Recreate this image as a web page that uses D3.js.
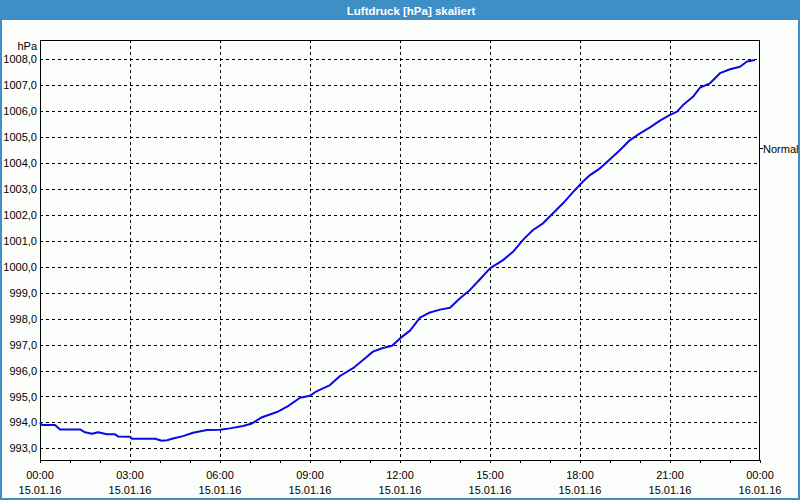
<!DOCTYPE html>
<html><head><meta charset="utf-8">
<script src="https://cdn.jsdelivr.net/npm/d3@7"></script>
<style>
html,body{margin:0;padding:0;background:#fff;}
svg{display:block;}
text{font-family:"Liberation Sans",Arial,sans-serif;}
</style></head>
<body><svg id="c" width="800" height="500"></svg>
<script>
const title = "Luftdruck [hPa] skaliert";
const yUnit = "hPa";
const rightLabel = "Normal";
const times = ["00:00","00:04","00:20","00:30","00:40","01:00","01:20","01:30","01:44","01:56","02:14","02:30","02:36","03:00","03:04","03:50","04:04","04:14","04:26","04:46","05:06","05:34","06:00","06:20","06:46","07:04","07:24","07:54","08:16","08:40","09:00","09:14","09:40","10:00","10:26","10:46","11:06","11:24","11:44","12:00","12:20","12:40","13:00","13:20","13:40","14:00","14:20","14:40","15:00","15:26","15:46","16:06","16:26","16:46","17:06","17:26","17:46","18:06","18:20","18:40","19:00","19:20","19:40","20:00","20:20","20:40","21:00","21:14","21:26","21:46","22:00","22:20","22:40","23:00","23:20","23:34","23:50"];
const values = [994.0,993.9,993.9,993.9,993.73,993.73,993.73,993.62,993.56,993.62,993.54,993.54,993.46,993.45,993.37,993.37,993.29,993.31,993.38,993.47,993.6,993.71,993.72,993.77,993.86,993.96,994.2,994.4,994.63,994.95,995.03,995.21,995.44,995.79,996.09,996.41,996.73,996.86,996.96,997.24,997.54,998.04,998.24,998.35,998.42,998.79,999.11,999.52,999.94,1000.26,1000.58,1001.04,1001.42,1001.68,1002.07,1002.45,1002.88,1003.29,1003.54,1003.8,1004.15,1004.51,1004.89,1005.15,1005.38,1005.64,1005.86,1005.99,1006.24,1006.56,1006.91,1007.08,1007.47,1007.62,1007.72,1007.92,1007.98];
const yTicks = [993,994,995,996,997,998,999,1000,1001,1002,1003,1004,1005,1006,1007,1008];
const xStart = "2016-01-15 00:00", xEnd = "2016-01-16 00:00";

const parse = d3.timeParse("%Y-%m-%d %H:%M");
const data = times.map((t,i)=>({t:parse("2016-01-15 "+t), v:values[i]}));

const svg = d3.select("#c");
const W=800,H=500;
const L=40,R=760,T=40,B=460;
const blue="#3d8fc6";

svg.append("rect").attr("width",W).attr("height",H).attr("fill",blue);
svg.append("rect").attr("x",2).attr("y",20).attr("width",W-4).attr("height",H-22).attr("fill","#fcfefc");
svg.append("text").attr("x",411).attr("y",14.5).attr("text-anchor","middle")
  .attr("fill","#fff").attr("font-weight","bold").attr("font-size","11.5px").text(title);

const x = d3.scaleTime().domain([parse(xStart),parse(xEnd)]).range([L,R]);
const y = d3.scaleLinear().domain([992.55,1008.75]).range([B,T]);

const g = svg.append("g").attr("shape-rendering","crispEdges");
// horizontal grid
g.selectAll(".hg").data(yTicks).join("line")
  .attr("x1",L).attr("x2",R).attr("y1",d=>Math.round(y(d))+0.5).attr("y2",d=>Math.round(y(d))+0.5)
  .attr("stroke","#000").attr("stroke-dasharray","3,3");
// vertical grid
const majors = d3.timeHour.every(3).range(parse(xStart), d3.timeMinute.offset(parse(xEnd),1));
g.selectAll(".vg").data(majors.filter((d,i)=>i>0 && i<majors.length-1)).join("line")
  .attr("y1",T).attr("y2",B).attr("x1",d=>Math.round(x(d))+0.5).attr("x2",d=>Math.round(x(d))+0.5)
  .attr("stroke","#000").attr("stroke-dasharray","3,3");

// line
const line = d3.line().x(d=>x(d.t)).y(d=>y(d.v));
svg.append("path").datum(data).attr("d",line).attr("fill","none")
  .attr("stroke","#0a0ae6").attr("stroke-width",2).attr("stroke-linejoin","round");

// frame
g.append("rect").attr("x",L+0.5).attr("y",T+0.5).attr("width",R-L-1).attr("height",B-T).attr("fill","none").attr("stroke","#000");

// x axis
const xAxis = d3.axisBottom(x).ticks(d3.timeHour.every(1)).tickSize(3).tickFormat("");
const ax = svg.append("g").attr("transform",`translate(0,${B})`).call(xAxis);
ax.select(".domain").remove();
ax.selectAll("line").attr("shape-rendering","crispEdges");
const fmtT = d3.timeFormat("%H:%M"), fmtD = d3.timeFormat("%d.%m.%y");
const lbl = svg.append("g").attr("font-size","11px").attr("fill","#000").attr("text-anchor","middle");
majors.forEach(d=>{
  lbl.append("text").attr("x",x(d)).attr("y",479).text(fmtT(d));
  lbl.append("text").attr("x",x(d)).attr("y",494).text(fmtD(d));
});

// y axis labels
const yAxis = d3.axisLeft(y).tickValues(yTicks).tickSize(0).tickPadding(3)
  .tickFormat(d=>d3.format(".1f")(d).replace(".",","));
const ay = svg.append("g").attr("transform",`translate(${L},0)`).call(yAxis);
ay.select(".domain").remove();
ay.selectAll("text").attr("font-size","11px").attr("font-family","Liberation Sans, Arial, sans-serif").attr("fill","#000");
svg.append("text").attr("x",37).attr("y",50).attr("text-anchor","end").attr("font-size","11px").text(yUnit);

// right label
svg.append("line").attr("x1",R).attr("x2",R+3).attr("y1",148.5).attr("y2",148.5).attr("stroke","#000").attr("shape-rendering","crispEdges");
svg.append("text").attr("x",763).attr("y",153).attr("font-size","11px").text(rightLabel);
</script></body></html>
